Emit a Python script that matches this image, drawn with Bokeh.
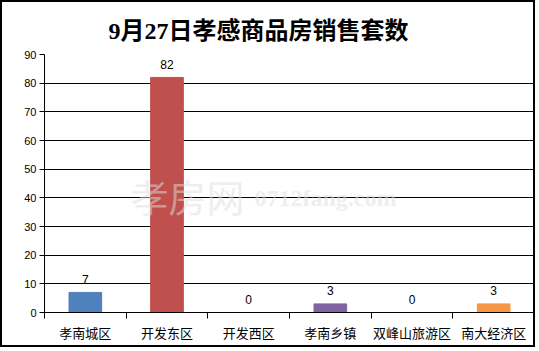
from bokeh.plotting import figure
from bokeh.models import FixedTicker, ColumnDataSource, Range1d, Label
from bokeh.core.properties import value
from bokeh.embed import file_html
from bokeh.resources import INLINE

title_text = "9月27日孝感商品房销售套数"
watermark_cn = "孝房网"
watermark_url = "0712fang.com"
categories = ["孝南城区", "开发东区", "开发西区", "孝南乡镇", "双峰山旅游区", "南大经济区"]
counts = [7, 82, 0, 3, 0, 3]
colors = ["#4F81BD", "#C0504D", "#9BBB59", "#8064A2", "#4BACC6", "#F79646"]
y_ticks = [0, 10, 20, 30, 40, 50, 60, 70, 80, 90]

n = len(categories)
xs = [i + 0.5 for i in range(n)]
src = ColumnDataSource(dict(x=xs, top=counts, color=colors,
                            label=[str(c) for c in counts], cat=categories))

p = figure(width=535, height=347, x_range=Range1d(0, n), y_range=Range1d(0, y_ticks[-1]),
           output_backend="svg", toolbar_location=None,
           min_border_left=42, min_border_right=3, min_border_top=52, min_border_bottom=37,
           styles={"border": "2px solid black"})
p.outline_line_color = None
p.background_fill_color = "white"
p.border_fill_color = "white"

p.title.text = title_text
p.title.align = "left"
p.title.offset = 64
p.title.standoff = 22
p.title.text_font = "Liberation Serif, Noto Sans CJK SC"
p.title.text_font_size = "24px"
p.title.text_font_style = "bold"
p.title.text_color = "black"

p.vbar(x="x", top="top", width=0.4, color="color", source=src)
p.text(x="x", y="top", text="label", source=src, text_align="center",
       text_baseline="alphabetic", y_offset=-13, text_font_size="12px",
       text_font=value("Liberation Sans"), text_color="black")

# x axis
p.xaxis.ticker = FixedTicker(ticks=xs, minor_ticks=list(range(n + 1)))
p.xaxis.major_label_overrides = {x: c for x, c in zip(xs, categories)}
p.xaxis.major_tick_line_color = None
p.xaxis.major_tick_out = 0
p.xaxis.major_tick_in = 0
p.xaxis.minor_tick_out = 6
p.xaxis.minor_tick_in = 0
p.xaxis.minor_tick_line_color = "black"
p.xaxis.axis_line_color = "black"
p.xaxis.major_label_standoff = 4
p.xaxis.major_label_text_font = "Noto Sans CJK SC"
p.xaxis.major_label_text_font_size = "13px"
p.xaxis.major_label_text_color = "black"

# y axis
p.yaxis.ticker = FixedTicker(ticks=y_ticks)
p.yaxis.major_tick_out = 5
p.yaxis.major_tick_in = 0
p.yaxis.minor_tick_line_color = None
p.yaxis.major_tick_line_color = "black"
p.yaxis.axis_line_color = "black"
p.yaxis.major_label_standoff = 3
p.yaxis.major_label_text_font = "Liberation Sans"
p.yaxis.major_label_text_font_size = "11px"
p.yaxis.major_label_text_color = "black"

p.xgrid.visible = False
p.ygrid.grid_line_color = "black"
p.ygrid.grid_line_alpha = 1.0

# watermark
p.add_layout(Label(x=86, y=117, x_units="screen", y_units="screen", text=watermark_cn,
                   text_font="Noto Sans CJK SC", text_font_size="38px", text_color="#dddddd",
                   text_alpha=0.5, text_baseline="middle"))
p.add_layout(Label(x=210, y=115, x_units="screen", y_units="screen", text=watermark_url,
                   text_font="Liberation Serif", text_font_size="24px", text_font_style="bold",
                   text_color="#dddddd", text_alpha=0.5, text_baseline="middle"))

open("out.html", "w").write(file_html(p, INLINE))
